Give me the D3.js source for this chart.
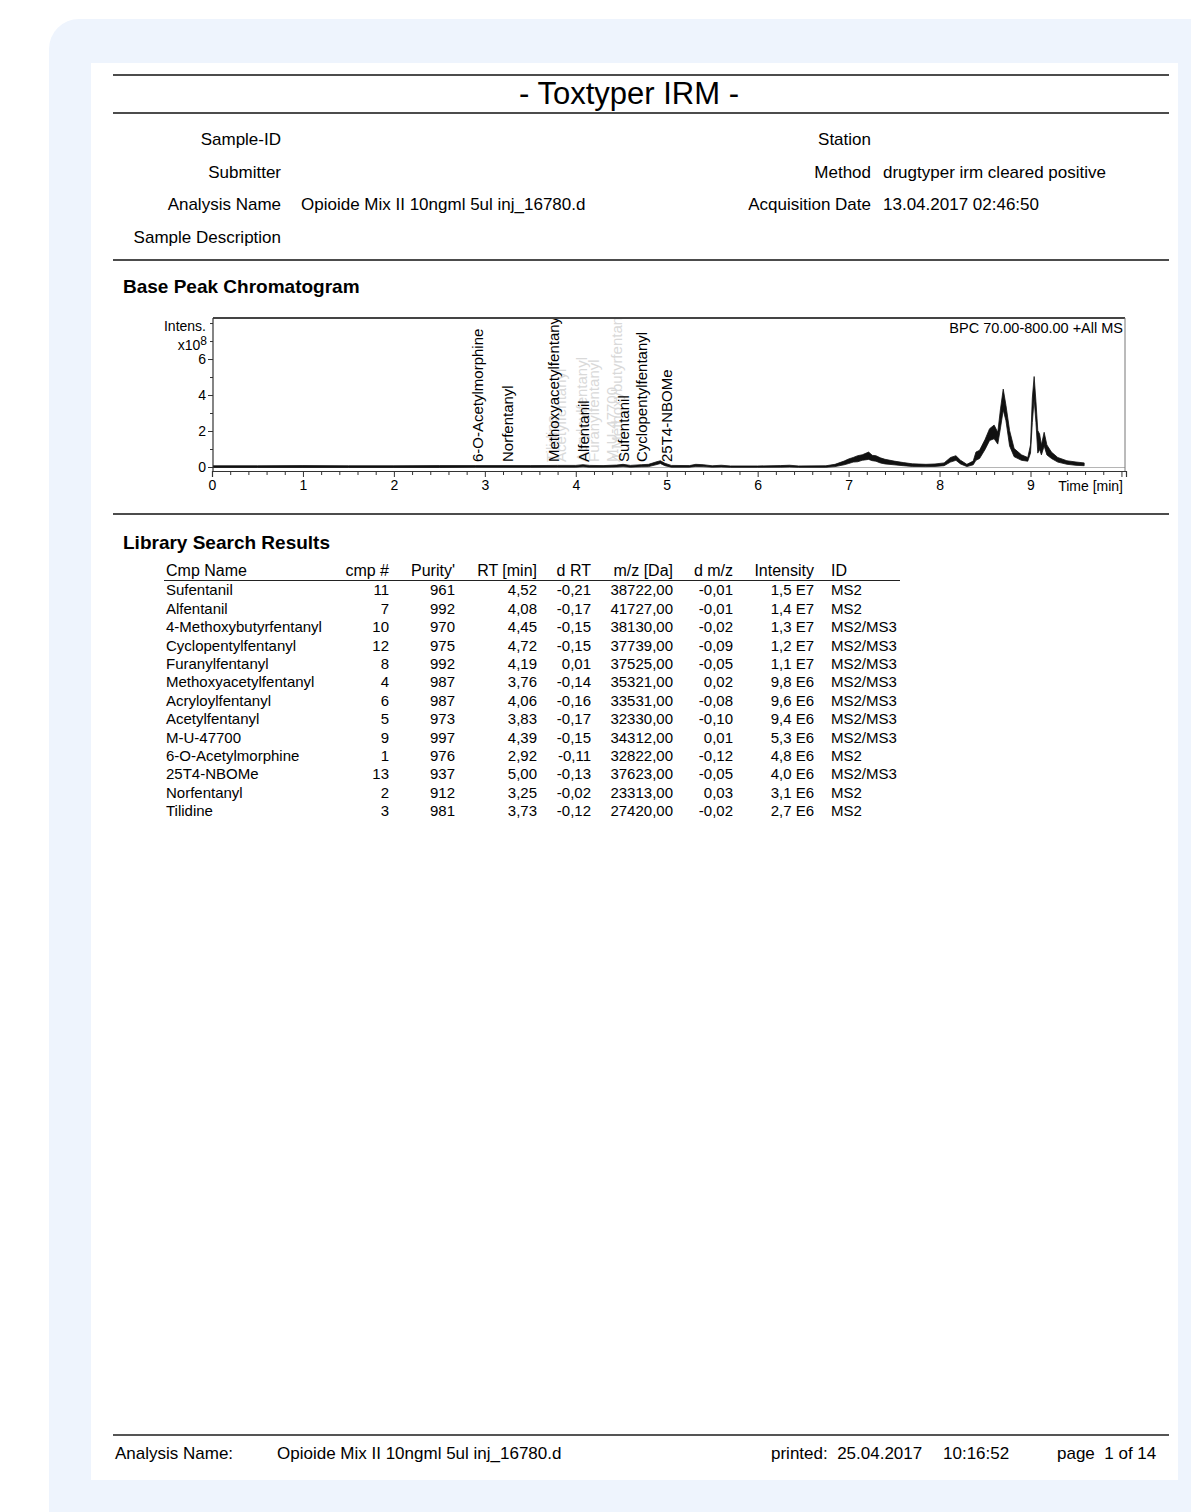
<!DOCTYPE html>
<html>
<head>
<meta charset="utf-8">
<script src="https://cdn.jsdelivr.net/npm/d3@7"></script>
<style>
  html, body { margin: 0; padding: 0; background: #fff; }
  svg { display: block; font-family: "Liberation Sans", Arial, sans-serif; }
</style>
</head>
<body>
<svg id="page" width="1191" height="1512"></svg>
<script>
// Header fields
const leftFields = ["Sample-ID", "Submitter", "Analysis Name", "Sample Description"];
const leftValues = ["", "", "Opioide Mix II 10ngml 5ul inj_16780.d", ""];
const rightFields = ["Station", "Method", "Acquisition Date"];
const rightValues = ["", "drugtyper irm cleared positive", "13.04.2017 02:46:50"];

// Library search results
const tableHeaders = ["Cmp Name", "cmp #", "Purity'", "RT [min]", "d RT", "m/z [Da]", "d m/z", "Intensity", "ID"];
const cmpNames = ["Sufentanil", "Alfentanil", "4-Methoxybutyrfentanyl", "Cyclopentylfentanyl", "Furanylfentanyl",
  "Methoxyacetylfentanyl", "Acryloylfentanyl", "Acetylfentanyl", "M-U-47700", "6-O-Acetylmorphine",
  "25T4-NBOMe", "Norfentanyl", "Tilidine"];
const cmpNums = [11, 7, 10, 12, 8, 4, 6, 5, 9, 1, 13, 2, 3];
const purity = [961, 992, 970, 975, 992, 987, 987, 973, 997, 976, 937, 912, 981];
const retTimes = [4.52, 4.08, 4.45, 4.72, 4.19, 3.76, 4.06, 3.83, 4.39, 2.92, 5.00, 3.25, 3.73];
const dRt = [-0.21, -0.17, -0.15, -0.15, 0.01, -0.14, -0.16, -0.17, -0.15, -0.11, -0.13, -0.02, -0.12];
const mz = [38722, 41727, 38130, 37739, 37525, 35321, 33531, 32330, 34312, 32822, 37623, 23313, 27420];
const dMz = [-0.01, -0.01, -0.02, -0.09, -0.05, 0.02, -0.08, -0.10, 0.01, -0.12, -0.05, 0.03, -0.02];
const intensity = ["1,5 E7", "1,4 E7", "1,3 E7", "1,2 E7", "1,1 E7", "9,8 E6", "9,6 E6", "9,4 E6", "5,3 E6", "4,8 E6", "4,0 E6", "3,1 E6", "2,7 E6"];
const idType = ["MS2", "MS2", "MS2/MS3", "MS2/MS3", "MS2/MS3", "MS2/MS3", "MS2/MS3", "MS2/MS3", "MS2/MS3", "MS2", "MS2/MS3", "MS2", "MS2"];
// labels drawn greyed-out in the chromatogram (overlapping peaks)
const faintLabels = ["Tilidine", "Acetylfentanyl", "Acryloylfentanyl", "Furanylfentanyl", "M-U-47700", "4-Methoxybutyrfentanyl"];

// Chromatogram axes
const timeTicks = [0, 1, 2, 3, 4, 5, 6, 7, 8, 9];
const intensTicks = [0, 2, 4, 6];
const intensMinorTicks = [1, 3, 5, 7, 8];

// BPC trace: [time min, low, high] (x1e8), low/high = noise band
const bpcTrace = [
  [0.00, 0.00, 0.04], [0.50, 0.00, 0.04], [1.00, 0.00, 0.05], [1.50, 0.00, 0.04], [2.00, 0.00, 0.04],
  [2.50, 0.00, 0.05], [2.90, 0.01, 0.05], [3.20, 0.01, 0.05], [3.50, 0.01, 0.05], [3.80, 0.02, 0.06],
  [4.00, 0.02, 0.06], [4.08, 0.04, 0.10], [4.15, 0.02, 0.06], [4.30, 0.02, 0.05], [4.45, 0.03, 0.08],
  [4.52, 0.05, 0.12], [4.60, 0.02, 0.06], [4.72, 0.04, 0.10], [4.80, 0.05, 0.12], [4.88, 0.15, 0.25],
  [4.93, 0.22, 0.32], [4.98, 0.10, 0.18], [5.05, 0.02, 0.06], [5.25, 0.02, 0.05], [5.32, 0.06, 0.12],
  [5.40, 0.05, 0.10], [5.50, 0.02, 0.04], [5.60, 0.03, 0.07], [5.70, 0.01, 0.03], [6.00, 0.01, 0.03],
  [6.25, 0.02, 0.05], [6.35, 0.03, 0.07], [6.45, 0.01, 0.03], [6.75, 0.01, 0.04], [6.85, 0.05, 0.12],
  [6.95, 0.15, 0.30], [7.00, 0.22, 0.42], [7.05, 0.30, 0.50], [7.10, 0.32, 0.60], [7.15, 0.40, 0.65],
  [7.22, 0.45, 0.80], [7.26, 0.38, 0.62], [7.30, 0.35, 0.60], [7.35, 0.25, 0.48], [7.40, 0.20, 0.40],
  [7.50, 0.15, 0.30], [7.60, 0.10, 0.22], [7.70, 0.06, 0.15], [7.85, 0.05, 0.12],
  [7.95, 0.06, 0.14], [8.05, 0.10, 0.20], [8.12, 0.30, 0.50], [8.18, 0.40, 0.60], [8.23, 0.20, 0.35],
  [8.30, 0.05, 0.12], [8.37, 0.15, 0.30], [8.40, 0.40, 0.80], [8.44, 0.50, 0.90], [8.50, 1.00, 1.50],
  [8.55, 1.50, 2.10], [8.60, 1.60, 2.30], [8.64, 1.30, 1.90], [8.67, 2.20, 3.20], [8.70, 3.20, 4.30],
  [8.73, 2.60, 3.40], [8.77, 1.20, 2.00], [8.82, 0.60, 1.00], [8.90, 0.40, 0.65], [8.97, 0.35, 0.50],
  [9.00, 0.80, 1.20], [9.02, 2.50, 3.80], [9.04, 3.80, 5.00], [9.06, 2.50, 3.60], [9.08, 0.80, 2.00],
  [9.10, 1.00, 1.80], [9.12, 0.70, 1.20], [9.15, 1.20, 1.90], [9.18, 0.70, 1.20], [9.23, 0.50, 0.80],
  [9.30, 0.30, 0.50], [9.40, 0.18, 0.32], [9.50, 0.12, 0.25], [9.59, 0.10, 0.20]
];

const svg = d3.select("#page");

// background card and white sheet
svg.append("rect").attr("x", 49).attr("y", 19).attr("width", 1200).attr("height", 1540)
  .attr("rx", 30).attr("fill", "#eef4fd");
svg.append("rect").attr("x", 91).attr("y", 63).attr("width", 1087).attr("height", 1417).attr("fill", "#fff");

function rule(y, w, color) {
  svg.append("line").attr("x1", 113).attr("x2", 1169).attr("y1", y).attr("y2", y)
    .attr("stroke", color || "#111").attr("stroke-width", w || 1.3);
}

// ---- header
rule(75);
rule(113);
svg.append("text").attr("x", 629).attr("y", 104).attr("text-anchor", "middle")
  .attr("font-size", 31).text("- Toxtyper IRM -");

const rowY = [139, 172, 204, 237];
leftFields.forEach((f, i) => {
  svg.append("text").attr("x", 281).attr("y", rowY[i]).attr("dy", "0.35em")
    .attr("text-anchor", "end").attr("font-size", 17).text(f);
  svg.append("text").attr("x", 301).attr("y", rowY[i]).attr("dy", "0.35em")
    .attr("font-size", 17).text(leftValues[i]);
});
rightFields.forEach((f, i) => {
  svg.append("text").attr("x", 871).attr("y", rowY[i]).attr("dy", "0.35em")
    .attr("text-anchor", "end").attr("font-size", 17).text(f);
  svg.append("text").attr("x", 883).attr("y", rowY[i]).attr("dy", "0.35em")
    .attr("font-size", 17).text(rightValues[i]);
});
rule(260);

// ---- chromatogram
svg.append("text").attr("x", 123).attr("y", 286).attr("dy", "0.35em")
  .attr("font-size", 19).attr("font-weight", "bold").text("Base Peak Chromatogram");

const plot = { left: 213, right: 1125, top: 318, bottom: 471 };
const x = d3.scaleLinear().domain([0, 10.05]).range([212, 1126]);
const y = d3.scaleLinear().domain([0, 8.28]).range([467, plot.top]);

svg.append("defs").append("clipPath").attr("id", "plotClip")
  .append("rect").attr("x", plot.left).attr("y", plot.top + 1)
  .attr("width", plot.right - plot.left).attr("height", plot.bottom - plot.top);

const chart = svg.append("g").attr("clip-path", "url(#plotClip)");

// compound labels at their retention times
const labelData = cmpNames.map((n, i) => ({ name: n, rt: retTimes[i], faint: faintLabels.includes(n) }))
  .sort((a, b) => (b.faint ? 1 : 0) - (a.faint ? 1 : 0));
chart.selectAll("text.cmp").data(labelData).join("text")
  .attr("class", "cmp")
  .attr("transform", d => `translate(${x(d.rt) + 5.5},462) rotate(-90)`)
  .attr("font-size", 15)
  .attr("fill", d => d.faint ? "#d9d9d9" : "#000")
  .text(d => d.name);

// trace
chart.append("line").attr("x1", x(0)).attr("x2", x(10.05)).attr("y1", y(0) + 0.5).attr("y2", y(0) + 0.5)
  .attr("stroke", "#b5b5b5").attr("stroke-width", 1.2);
chart.append("path").datum(bpcTrace)
  .attr("d", d3.area().x(d => x(d[0])).y0(d => y(d[1]) + 0.5).y1(d => y(d[2]) - 0.5))
  .attr("fill", "#111").attr("stroke", "#111").attr("stroke-width", 0.8).attr("stroke-linejoin", "round");

// frame
svg.append("line").attr("x1", plot.left).attr("x2", plot.right).attr("y1", plot.top).attr("y2", plot.top)
  .attr("stroke", "#444").attr("stroke-width", 2);
svg.append("line").attr("x1", plot.right).attr("x2", plot.right).attr("y1", plot.top).attr("y2", plot.bottom)
  .attr("stroke", "#777").attr("stroke-width", 1);

// x axis
const xMinor = d3.range(0, 50).map(i => i * 0.2).filter(v => Math.abs(v - Math.round(v)) > 1e-6);
svg.append("g").attr("transform", `translate(0,${plot.bottom})`)
  .call(d3.axisBottom(x).tickValues(xMinor).tickSize(4).tickFormat(""))
  .call(g => g.select(".domain").remove())
  .call(g => g.selectAll("line").attr("stroke", "#333"));
svg.append("g").attr("transform", `translate(0,${plot.bottom})`)
  .call(d3.axisBottom(x).tickValues(timeTicks.concat([10])).tickSize(6).tickPadding(3)
    .tickFormat(d => d === 10 ? "" : d))
  .call(g => g.select(".domain").attr("stroke", "#333").attr("stroke-width", 1.2))
  .call(g => g.selectAll("line").attr("stroke", "#333"))
  .call(g => g.selectAll("text").attr("font-size", 14).attr("fill", "#000")
    .attr("font-family", "Liberation Sans, Arial, sans-serif"));
svg.append("text").attr("x", 1123).attr("y", 486).attr("dy", "0.35em").attr("text-anchor", "end")
  .attr("font-size", 14).text("Time [min]");

// y axis
svg.append("g").attr("transform", `translate(${plot.left},0)`)
  .call(d3.axisLeft(y).tickValues(intensMinorTicks).tickSize(3).tickFormat(""))
  .call(g => g.select(".domain").remove())
  .call(g => g.selectAll("line").attr("stroke", "#333"));
svg.append("g").attr("transform", `translate(${plot.left},0)`)
  .call(d3.axisLeft(y).tickValues(intensTicks).tickSize(5).tickPadding(2))
  .call(g => g.select(".domain").attr("d", `M0,${plot.top}V${plot.bottom}`).attr("stroke", "#333").attr("stroke-width", 1.2))
  .call(g => g.selectAll("line").attr("stroke", "#333"))
  .call(g => g.selectAll("text").attr("font-size", 14).attr("fill", "#000")
    .attr("font-family", "Liberation Sans, Arial, sans-serif"));
svg.append("text").attr("x", 206).attr("y", 326).attr("dy", "0.35em").attr("text-anchor", "end")
  .attr("font-size", 14).text("Intens.");
const exp = svg.append("text").attr("x", 207).attr("y", 345).attr("dy", "0.35em").attr("text-anchor", "end")
  .attr("font-size", 14);
exp.append("tspan").text("x10");
exp.append("tspan").attr("dy", "-0.45em").attr("font-size", 12).text("8");

svg.append("text").attr("x", 1123).attr("y", 328).attr("dy", "0.35em").attr("text-anchor", "end")
  .attr("font-size", 14.5).text("BPC 70.00-800.00 +All MS");

rule(514);

// ---- library search results
svg.append("text").attr("x", 123).attr("y", 542).attr("dy", "0.35em")
  .attr("font-size", 19).attr("font-weight", "bold").text("Library Search Results");

const fmt2 = v => d3.format(".2f")(v).replace(".", ",").replace("−", "-");
const columns = [
  { x: 166, anchor: "start", val: i => cmpNames[i] },
  { x: 389, anchor: "end", val: i => cmpNums[i] },
  { x: 455, anchor: "end", val: i => purity[i] },
  { x: 537, anchor: "end", val: i => fmt2(retTimes[i]) },
  { x: 591, anchor: "end", val: i => fmt2(dRt[i]) },
  { x: 673, anchor: "end", val: i => fmt2(mz[i]) },
  { x: 733, anchor: "end", val: i => fmt2(dMz[i]) },
  { x: 814, anchor: "end", val: i => intensity[i] },
  { x: 831, anchor: "start", val: i => idType[i] }
];
const rowScale = d3.scaleLinear().domain([0, cmpNames.length - 1]).range([590, 811]);
const table = svg.append("g").attr("font-size", 15);
columns.forEach((c, j) => {
  table.append("text").attr("x", c.x).attr("y", 570).attr("dy", "0.35em")
    .attr("text-anchor", c.anchor).attr("font-size", 16).text(tableHeaders[j]);
  table.selectAll(null).data(d3.range(cmpNames.length)).join("text")
    .attr("x", c.x).attr("y", i => rowScale(i)).attr("dy", "0.35em")
    .attr("text-anchor", c.anchor).text(i => c.val(i));
});
svg.append("line").attr("x1", 164).attr("x2", 900).attr("y1", 580.5).attr("y2", 580.5)
  .attr("stroke", "#222").attr("stroke-width", 1.2);

// ---- footer
rule(1435, 2, "#555");
const foot = svg.append("g").attr("font-size", 17);
[["Analysis Name:", 115], ["Opioide Mix II 10ngml 5ul inj_16780.d", 277], ["printed:  25.04.2017", 771],
 ["10:16:52", 943], ["page  1 of 14", 1057]].forEach(([t, fx]) => {
  foot.append("text").attr("x", fx).attr("y", 1453).attr("dy", "0.35em")
    .attr("xml:space", "preserve").style("white-space", "pre").text(t);
});
</script>
</body>
</html>
